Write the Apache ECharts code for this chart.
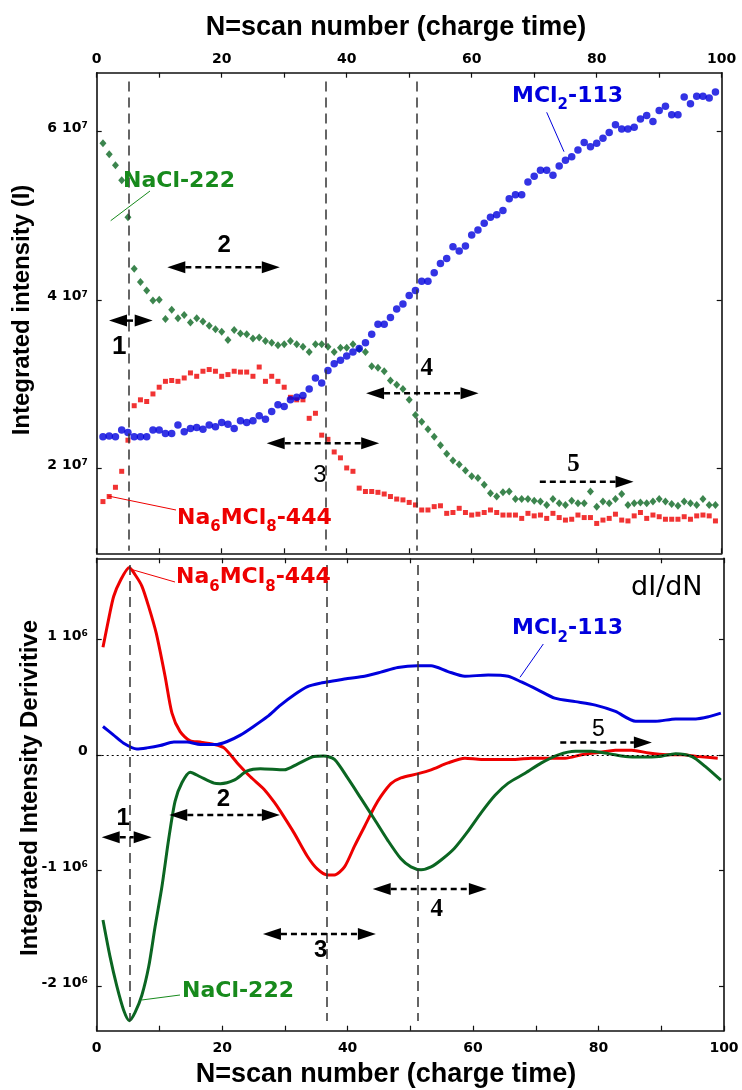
<!DOCTYPE html>
<html><head><meta charset="utf-8">
<script src="https://cdn.jsdelivr.net/npm/echarts@6/dist/echarts.min.js"></script>
<style>html,body{margin:0;padding:0;background:#fff}#c{width:742px;height:1090px}</style>
</head><body><div id="c"></div>
<script>
// ---------- DATA ----------
// Upper panel: integrated intensity (units of 1e7) vs scan number N
const scanN = [1,2,3,4,5,6,7,8,9,10,11,12,13,14,15,16,17,18,19,20,21,22,23,24,25,26,27,28,29,30,31,32,33,34,35,36,37,38,39,40,41,42,43,44,45,46,47,48,49,50,51,52,53,54,55,56,57,58,59,60,61,62,63,64,65,66,67,68,69,70,71,72,73,74,75,76,77,78,79,80,81,82,83,84,85,86,87,88,89,90,91,92,93,94,95,96,97,98,99];
const nacl222 = [5.86,5.73,5.60,5.42,4.98,4.37,4.21,4.11,3.99,4.00,
  3.77,3.88,3.78,3.82,3.73,3.78,3.74,3.69,3.65,3.62,
  3.52,3.64,3.60,3.59,3.54,3.55,3.51,3.49,3.46,3.47,
  3.51,3.47,3.44,3.38,3.47,3.47,3.44,3.38,3.43,3.43,
  3.47,3.41,3.38,3.21,3.19,3.15,3.04,2.99,2.94,2.81,
  2.63,2.55,2.46,2.37,2.27,2.17,2.09,2.04,1.97,1.90,
  1.88,1.80,1.70,1.66,1.71,1.72,1.63,1.63,1.63,1.61,
  1.60,1.56,1.63,1.58,1.56,1.61,1.58,1.58,1.72,1.54,
  1.60,1.58,1.63,1.69,1.56,1.58,1.59,1.58,1.60,1.63,
  1.60,1.57,1.55,1.60,1.58,1.56,1.63,1.56,1.56];
const na6mcl8 = [1.60,1.66,1.77,1.96,2.33,2.74,2.81,2.79,2.88,2.96,
  3.03,3.04,3.03,3.07,3.13,3.09,3.15,3.17,3.15,3.09,
  3.11,3.15,3.14,3.14,3.09,3.20,3.03,3.09,3.03,2.96,
  2.84,2.81,2.81,2.59,2.65,2.39,2.34,2.19,2.12,2.00,
  1.96,1.76,1.72,1.72,1.71,1.69,1.66,1.63,1.62,1.59,
  1.56,1.50,1.50,1.54,1.55,1.46,1.47,1.52,1.47,1.44,
  1.45,1.47,1.50,1.47,1.44,1.44,1.44,1.40,1.46,1.43,
  1.44,1.40,1.46,1.41,1.38,1.39,1.44,1.41,1.41,1.34,
  1.38,1.40,1.45,1.38,1.37,1.43,1.47,1.40,1.44,1.42,
  1.39,1.39,1.39,1.42,1.39,1.43,1.44,1.43,1.37];
const mcl2 = [2.37,2.38,2.37,2.45,2.42,2.37,2.37,2.37,2.45,2.45,
  2.41,2.41,2.51,2.43,2.47,2.48,2.46,2.51,2.49,2.54,
  2.52,2.47,2.56,2.54,2.56,2.62,2.58,2.67,2.75,2.73,
  2.81,2.84,2.86,2.94,3.07,3.01,3.16,3.24,3.28,3.33,
  3.38,3.42,3.49,3.59,3.71,3.71,3.79,3.89,3.95,4.05,
  4.11,4.22,4.22,4.32,4.43,4.49,4.63,4.58,4.64,4.77,
  4.83,4.91,4.98,5.01,5.06,5.20,5.25,5.25,5.40,5.47,
  5.54,5.54,5.48,5.59,5.66,5.70,5.78,5.87,5.82,5.86,
  5.92,5.99,6.08,6.03,6.03,6.05,6.15,6.19,6.12,6.25,
  6.30,6.20,6.20,6.41,6.33,6.42,6.42,6.40,6.47];

// Lower panel: derivative dI/dN (units of 1e6)
const dRedN = [1,2,2.7,3.7,5.2,6.1,7.2,8.3,9.5,10.9,12,13.3,14.9,16.5,18.7,20.3,22.4,24.5,26.7,28.3,29.3,31.5,33.6,35.2,36.8,37.9,39.5,41.1,42.7,44.3,45.3,46.9,48.5,51.1,53.3,56,58.7,61.3,64.5,66.7,69.3,72,74.7,77.3,80,82.7,85.3,88,90.7,93.3,96,99];
const dRed = [0.93,1.20,1.37,1.50,1.62,1.56,1.46,1.28,1.05,0.68,0.36,0.20,0.12,0.11,0.09,0.06,-0.07,-0.19,-0.30,-0.41,-0.49,-0.68,-0.88,-0.99,-1.04,-1.04,-0.97,-0.79,-0.62,-0.45,-0.36,-0.25,-0.20,-0.165,-0.13,-0.07,-0.03,-0.04,-0.04,-0.04,-0.03,-0.03,-0.03,0.0,0.02,0.04,0.04,0.015,0,0,-0.015,-0.03];
const dBlueN = [1,2.7,4.3,6.4,8,10.1,12.3,14.4,16.5,19.2,20.8,22.9,25,27.2,29.3,31.5,33.6,35.7,37.9,40,42.7,45.3,48,51.1,53.3,56,58.7,62.4,65.6,67.7,70.4,73,76.3,79.5,82.7,85.9,89.1,92.3,95.5,97.6,99.5];
const dBlue = [0.245,0.17,0.10,0.05,0.06,0.08,0.11,0.11,0.09,0.09,0.115,0.17,0.245,0.33,0.43,0.52,0.59,0.62,0.64,0.66,0.68,0.715,0.755,0.77,0.77,0.72,0.68,0.69,0.68,0.63,0.56,0.49,0.46,0.43,0.375,0.29,0.29,0.31,0.31,0.33,0.36];
const dGreenN = [1,2.1,3.2,4.3,5.2,6.1,7.2,8.3,9.3,10.4,11.5,12.5,13.6,14.9,16.5,18.7,19.7,21.9,24,26.1,29.9,32,34.6,36.2,37.9,40,42.1,44.3,46.4,48.5,50.1,51.7,53.3,54.9,57,59.2,61.3,63.5,65.6,68.3,70.9,73.6,76.3,78.9,81.6,84.3,86.9,89.6,92.3,94.9,97,99.5];
const dGreen = [-1.43,-1.74,-2.00,-2.21,-2.30,-2.23,-2.08,-1.83,-1.49,-1.14,-0.72,-0.40,-0.24,-0.15,-0.19,-0.245,-0.25,-0.22,-0.14,-0.12,-0.13,-0.08,-0.015,-0.01,-0.04,-0.20,-0.375,-0.56,-0.74,-0.90,-0.97,-0.995,-0.97,-0.91,-0.81,-0.66,-0.50,-0.35,-0.245,-0.16,-0.07,0,0.03,0.03,0.01,-0.015,-0.02,-0.015,0.01,-0.015,-0.10,-0.22];

const xTickLabels = [0,20,40,60,80,100];
const yTicksUpper = [2,4,6];          // x 1e7
const yTicksLower = [-2,-1,0,1];      // x 1e6
const transitionsN = [5.2, 36.7, 51.2];

// annotation arrows: [N from, N to, value, left head, right head, label, label N, label value]
const arrowsUpper = [
  [1.97, 8.96, 3.752, true, true, '1', 3.6, 3.443],
  [11.3, 29.3, 4.387, true, true, '2', 20.4, 4.652],
  [27.2, 45.2, 2.294, true, true, '3', 35.7, 1.917],
  [43.1, 61.1, 2.888, true, true, '4', 52.8, 3.186],
  [70.9, 85.9, 1.837, false, true, '5', 76.3, 2.036]
];
const arrowsLower = [
  [0.8, 8.77, -0.713, true, true, '1', 4.24, -0.549],
  [11.57, 29.2, -0.52, true, true, '2', 20.2, -0.39],
  [26.5, 44.5, -1.55, true, true, '3', 35.7, -1.689],
  [44.0, 62.2, -1.16, true, true, '4', 54.2, -1.339],
  [73.9, 88.5, 0.106, false, true, '5', 79.96, 0.215]
];

// ---------- STYLE ----------
const C_RED = '#ee0000', C_BLUE = '#0000dd', C_GREEN = '#0b6622', C_GREEN_T = '#178a1c';
const SANS = '"Liberation Sans", Arial, sans-serif';
const DJ = '"DejaVu Sans", sans-serif';
const SERIF = '"Liberation Serif", "Times New Roman", serif';

const pairs = (xs, ys) => xs.map((x, i) => [x, ys[i]]);

const axLine = {show: true, onZero: false, lineStyle: {color: '#111', width: 1.6}};
const xBase = (grid, pos, showLabel, margin) => ({
  type: 'value', gridIndex: grid, position: pos, min: 0, max: 100, interval: 10,
  splitLine: {show: false}, axisLine: axLine,
  axisTick: {show: true, inside: true, length: 5, lineStyle: {color: '#111', width: 1.2}},
  axisLabel: {show: showLabel, margin: margin, color: '#000', fontFamily: DJ, fontWeight: 'bold', fontSize: 14,
    formatter: v => (xTickLabels.indexOf(v) >= 0 ? String(v) : '')}
});
const supRich = {
  n: {fontFamily: DJ, fontWeight: 'bold', fontSize: 14, color: '#000', lineHeight: 20, verticalAlign: 'top'},
  s: {fontFamily: DJ, fontWeight: 'bold', fontSize: 9, color: '#000', lineHeight: 9, verticalAlign: 'top'}
};
const yBase = (grid, pos, min, max, ticks, exp, showLabel) => ({
  type: 'value', gridIndex: grid, position: pos, min: min, max: max,
  splitLine: {show: false}, axisLine: axLine,
  axisTick: {show: true, inside: true, length: 5, customValues: ticks, lineStyle: {color: '#111', width: 1.2}},
  axisLabel: {show: showLabel, customValues: ticks, margin: 9, rich: supRich,
    formatter: v => (Math.abs(v) < 1e-9 ? '{n|0}' : '{n|' + v + ' 10}{s|' + exp + '}')}
});

const dashV = {type: [10, 6], color: '#333', width: 1.5};

const option = {
  animation: false,
  backgroundColor: '#fff',
  grid: [
    {left: 96.7, right: 20.3, top: 72.7, height: 480.6},
    {left: 96.7, right: 18, top: 558.3, height: 472.4}
  ],
  xAxis: [
    xBase(0, 'bottom', false, 8),
    xBase(0, 'top', true, 6),
    xBase(1, 'bottom', true, 11),
    xBase(1, 'top', false, 8)
  ],
  yAxis: [
    yBase(0, 'left', 0.985, 6.70, yTicksUpper, '7', true),
    yBase(0, 'right', 0.985, 6.70, yTicksUpper, '7', false),
    yBase(1, 'left', -2.387, 1.70, yTicksLower, '6', true),
    yBase(1, 'right', -2.387, 1.70, yTicksLower, '6', false)
  ],
  series: [
    {type: 'scatter', name: 'NaCl-222', xAxisIndex: 0, yAxisIndex: 0, data: pairs(scanN, nacl222),
      symbol: 'diamond', symbolSize: [7, 8], itemStyle: {color: C_GREEN}, z: 3,
      markLine: {silent: true, symbol: ['none', 'none'], label: {show: false}, lineStyle: dashV,
        data: transitionsN.map(t => [{coord: [t, 6.595]}, {coord: [t, 1.015]}])}},
    {type: 'scatter', name: 'Na6MCl8-444', xAxisIndex: 0, yAxisIndex: 0, data: pairs(scanN, na6mcl8),
      symbol: 'rect', symbolSize: 5, itemStyle: {color: C_RED}, z: 3},
    {type: 'scatter', name: 'MCl2-113', xAxisIndex: 0, yAxisIndex: 0, data: pairs(scanN, mcl2),
      symbol: 'circle', symbolSize: 7.5, itemStyle: {color: C_BLUE}, z: 4},
    {type: 'line', name: 'dNa6MCl8', xAxisIndex: 2, yAxisIndex: 2, data: pairs(dRedN, dRed),
      showSymbol: false, smooth: 0.25, lineStyle: {color: C_RED, width: 3}, z: 3,
      markLine: {silent: true, symbol: ['none', 'none'], label: {show: false},
        data: [
          {yAxis: 0, lineStyle: {type: [2, 3], color: '#000', width: 1.2}}
        ].concat(transitionsN.map(t => [{coord: [t, 1.643], lineStyle: dashV}, {coord: [t, -2.302]}]))}},
    {type: 'line', name: 'dMCl2', xAxisIndex: 2, yAxisIndex: 2, data: pairs(dBlueN, dBlue),
      showSymbol: false, smooth: 0.25, lineStyle: {color: C_BLUE, width: 3}, z: 3},
    {type: 'line', name: 'dNaCl', xAxisIndex: 2, yAxisIndex: 2, data: pairs(dGreenN, dGreen),
      showSymbol: false, smooth: 0.25, lineStyle: {color: C_GREEN, width: 3}, z: 3}
  ]
};

const chart = echarts.init(document.getElementById('c'), null, {renderer: 'canvas'});
chart.setOption(option);

// ---------- ANNOTATIONS ----------
const g = [];
function txt(x, y, text, font, fill, extra) {
  return Object.assign({type: 'text', x: x, y: y, z: 100,
    style: {text: text, font: font, fill: fill, align: 'center', verticalAlign: 'middle'}}, extra || {});
}
function ltxt(x, y, text, font, fill) {
  return {type: 'text', x: x, y: y, z: 100,
    style: {text: text, font: font, fill: fill, align: 'left', verticalAlign: 'middle'}};
}
function seg(x1, y1, x2, y2, color, w, dash) {
  return {type: 'line', z: 100, shape: {x1: x1, y1: y1, x2: x2, y2: y2},
    style: {stroke: color, lineWidth: w || 1, lineDash: dash || null}};
}
function addArrows(list, gridIndex, fonts) {
  list.forEach((a, i) => {
    const p1 = chart.convertToPixel({gridIndex: gridIndex}, [a[0], a[2]]);
    const p2 = chart.convertToPixel({gridIndex: gridIndex}, [a[1], a[2]]);
    const L = 18, H = 6, y = p1[1];
    const xa = a[3] ? p1[0] + L : p1[0], xb = a[4] ? p2[0] - L : p2[0];
    if (xb > xa) g.push(seg(xa, y, xb, y, '#000', 2.5, [6, 4]));
    if (a[3]) g.push({type: 'polygon', z: 100, shape: {points: [[p1[0], y], [p1[0] + L, y - H], [p1[0] + L, y + H]]}, style: {fill: '#000'}});
    if (a[4]) g.push({type: 'polygon', z: 100, shape: {points: [[p2[0], y], [p2[0] - L, y - H], [p2[0] - L, y + H]]}, style: {fill: '#000'}});
    const pl = chart.convertToPixel({gridIndex: gridIndex}, [a[6], a[7]]);
    g.push(txt(pl[0], pl[1], a[5], fonts[i], '#000'));
  });
}
addArrows(arrowsUpper, 0, ['bold 26px ' + SANS, 'bold 24px ' + SANS, '24px ' + SANS, 'bold 25px ' + SERIF, 'bold 25px ' + SERIF]);
addArrows(arrowsLower, 1, ['bold 24px ' + SANS, 'bold 24px ' + SANS, 'bold 24px ' + SANS, 'bold 25px ' + SERIF, '23px ' + SANS]);

// series name labels with subscripts
const subRich = (col) => ({
  m: {fontFamily: DJ, fontWeight: 'bold', fontSize: 22, fill: col, lineHeight: 28, verticalAlign: 'top'},
  s: {fontFamily: DJ, fontWeight: 'bold', fontSize: 15, fill: col, lineHeight: 15, verticalAlign: 'bottom'}
});
function richLabel(x, yc, text, col) {
  return {type: 'text', x: x, y: yc - 11, z: 100,
    style: {text: text, rich: subRich(col), fill: col, align: 'left', verticalAlign: 'top'}};
}
// upper panel
g.push(ltxt(123, 181, 'NaCl-222', 'bold 22px ' + DJ, C_GREEN_T));
g.push(seg(110.7, 220.7, 150, 191, C_GREEN_T, 1));
g.push(richLabel(512, 96, '{m|MCl}{s|2}{m|-113}', C_BLUE));
g.push(seg(546.7, 112.3, 564, 151.7, C_BLUE, 1));
g.push(richLabel(177, 518, '{m|Na}{s|6}{m|MCl}{s|8}{m|-444}', C_RED));
g.push(seg(108.3, 496, 176, 510, C_RED, 1));
// lower panel
g.push(richLabel(176, 577.5, '{m|Na}{s|6}{m|MCl}{s|8}{m|-444}', C_RED));
g.push(seg(130, 569, 175, 582, C_RED, 1));
g.push(ltxt(631, 587.5, 'dI/dN', '27px ' + DJ, '#000'));
g.push(richLabel(512, 628.7, '{m|MCl}{s|2}{m|-113}', C_BLUE));
g.push(seg(543.3, 644, 520, 677.3, C_BLUE, 1));
g.push(ltxt(182, 991.7, 'NaCl-222', 'bold 22px ' + DJ, C_GREEN_T));
g.push(seg(141.7, 1000, 180, 995, C_GREEN_T, 1));

// axis titles
g.push(txt(396, 28, 'N=scan number (charge time)', 'bold 27px ' + SANS, '#000'));
g.push(txt(386, 1075, 'N=scan number (charge time)', 'bold 27px ' + SANS, '#000'));
g.push(txt(22, 310, 'Integrated intensity (I)', 'bold 24px ' + SANS, '#000', {rotation: Math.PI / 2}));
g.push(txt(30, 788, 'Integrated Intensity Derivitive', 'bold 24px ' + SANS, '#000', {rotation: Math.PI / 2}));

chart.setOption({graphic: {elements: g}});
</script>
</body></html>
